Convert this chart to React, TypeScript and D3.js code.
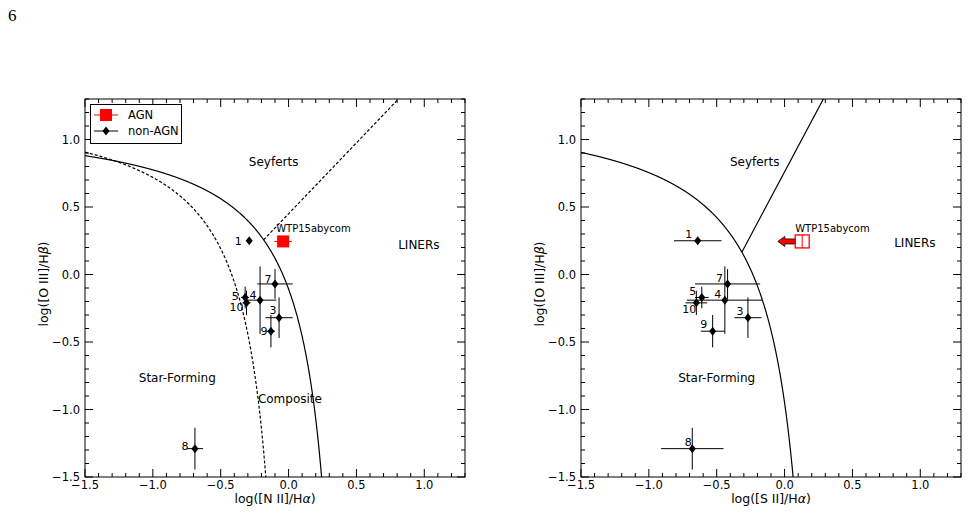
import * as d3 from "d3";

// galaxy ids and line ratios
const ids = ["1", "3", "4", "5", "7", "8", "9", "10"];
const niiX = [-0.29, -0.07, -0.21, -0.32, -0.1, -0.69, -0.13, -0.31];
const niiErr = [0.0, 0.1, 0.12, 0.03, 0.13, 0.06, 0.03, 0.03];
const siiX = [-0.64, -0.27, -0.44, -0.61, -0.42, -0.68, -0.53, -0.65];
const siiErr = [0.175, 0.1, 0.28, 0.05, 0.24, 0.23, 0.087, 0.08];
const oiiiY = [0.25, -0.32, -0.19, -0.17, -0.07, -1.29, -0.42, -0.21];
const oiiiErr = [0.0, 0.15, 0.25, 0.08, 0.11, 0.155, 0.12, 0.09];

// the AGN candidate
const agnName = "WTP15abycom";
const agnNii = { x: -0.04, xerr: 0.065, y: 0.245 };
const agnSii = { x: 0.13, limit: 0.18, y: 0.245 };

const xTicks = [-1.5, -1.0, -0.5, 0.0, 0.5, 1.0];
const yTicks = [-1.5, -1.0, -0.5, 0.0, 0.5, 1.0];

// label offsets (px) around each point
const niiLabelOff: [number, number][] = [[-11, 0], [-6, -8], [-7, -5], [-10, -1], [-7, -5], [-10, -3], [-7, 0], [-10, 4]];
const siiLabelOff: [number, number][] = [[-9, -7], [-8, -7], [-7, -6], [-9, -6], [-8, -6], [-4, -7], [-9, -7], [-7, 6]];

const FONT = "DejaVu Sans, sans-serif";
const minus = (v: number) => (v < 0 ? "\u2212" : "") + Math.abs(v).toFixed(1);

type PanelProps = {
  id: string;
  left: number;
  xs: number[];
  xerr: number[];
  offs: [number, number][];
  kind: "nii" | "sii";
  xLabel: string;
  regions: { t: string; x: number; y: number }[];
};

function Diamond({ cx, cy }: { cx: number; cy: number }) {
  return <path d={`M${cx},${cy - 4.5} L${cx + 3.5},${cy} L${cx},${cy + 4.5} L${cx - 3.5},${cy} Z`} fill="#000" />;
}

function Panel({ id, left, xs, xerr, offs, kind, xLabel, regions }: PanelProps) {
  const x = d3.scaleLinear().domain([-1.5, 1.3]).range([left, left + 380]);
  const y = d3.scaleLinear().domain([-1.5, 1.3]).range([477, 99]);
  const [x0, x1] = x.range();
  const [y1, y0] = y.range();

  const minor = d3.range(-15, 14).map((i) => i / 10);
  const line = d3
    .line<[number, number]>()
    .x((d) => x(d[0]))
    .y((d) => y(d[1]));

  const curve = (a: number, b: number, c: number) =>
    d3
      .range(-1.5, b - 0.001, 0.002)
      .map((v) => [v, a / (v - b) + c] as [number, number])
      .filter((p) => p[1] >= -1.6);

  const maxLine = kind === "nii" ? curve(0.61, 0.47, 1.19) : curve(0.72, 0.32, 1.3);
  const kauff = kind === "nii" ? curve(0.61, 0.05, 1.3) : null;
  const sey =
    kind === "nii"
      ? ([[-0.184, 1.05 * -0.184 + 0.45], [0.81, 1.05 * 0.81 + 0.45]] as [number, number][])
      : ([[-0.315, 1.89 * -0.315 + 0.76], [0.29, 1.89 * 0.29 + 0.76]] as [number, number][]);

  return (
    <g>
      <defs>
        <clipPath id={id}>
          <rect x={x0} y={y0} width={x1 - x0} height={y1 - y0} />
        </clipPath>
      </defs>
      <g clipPath={`url(#${id})`} fill="none" stroke="#000" strokeWidth={1.2}>
        <path d={line(maxLine) ?? ""} />
        {kauff && <path d={line(kauff) ?? ""} strokeDasharray="3,2" />}
        <path d={line(sey) ?? ""} strokeDasharray={kind === "nii" ? "3,2" : undefined} />
      </g>

      {/* minor & major ticks, pointing in */}
      <g stroke="#000" strokeWidth={1}>
        {minor.map((v) => {
          const major = Math.abs(v * 2 - Math.round(v * 2)) < 1e-6;
          const L = major ? 8 : 4;
          return (
            <g key={v}>
              <line x1={x(v)} x2={x(v)} y1={y1} y2={y1 - L} />
              <line x1={x(v)} x2={x(v)} y1={y0} y2={y0 + L} />
              <line y1={y(v)} y2={y(v)} x1={x0} x2={x0 + L} />
              <line y1={y(v)} y2={y(v)} x1={x1} x2={x1 - L} />
            </g>
          );
        })}
      </g>
      <rect x={x0} y={y0} width={x1 - x0} height={y1 - y0} fill="none" stroke="#000" strokeWidth={1} />

      <g fontFamily={FONT} fontSize={11.5} fill="#000">
        {xTicks.map((v) => (
          <text key={v} x={x(v)} y={489} textAnchor="middle">
            {minus(v)}
          </text>
        ))}
        {yTicks.map((v) => (
          <text key={v} x={x0 - 5} y={y(v) + 4} textAnchor="end">
            {minus(v)}
          </text>
        ))}
      </g>

      <text x={(x0 + x1) / 2} y={503} textAnchor="middle" fontFamily={FONT} fontSize={12.5}>
        {xLabel}
        <tspan fontStyle="italic">α</tspan>)
      </text>
      <text
        transform={`translate(${x0 - 37},${(y0 + y1) / 2 - 4}) rotate(-90)`}
        textAnchor="middle"
        fontFamily={FONT}
        fontSize={12.5}
      >
        log([O III]/H<tspan fontStyle="italic">β</tspan>)
      </text>

      <g fontFamily={FONT} fontSize={12} textAnchor="middle">
        {regions.map((r) => (
          <text key={r.t} x={x(r.x)} y={y(r.y) + 4}>
            {r.t}
          </text>
        ))}
      </g>

      {/* non-AGN points */}
      <g stroke="#000" strokeWidth={1}>
        {ids.map((_, i) => (
          <g key={i}>
            <line x1={x(xs[i] - xerr[i])} x2={x(xs[i] + xerr[i])} y1={y(oiiiY[i])} y2={y(oiiiY[i])} />
            <line x1={x(xs[i])} x2={x(xs[i])} y1={y(oiiiY[i] - oiiiErr[i])} y2={y(oiiiY[i] + oiiiErr[i])} />
          </g>
        ))}
      </g>
      {ids.map((n, i) => (
        <g key={n}>
          <Diamond cx={x(xs[i])} cy={y(oiiiY[i])} />
          <text
            x={x(xs[i]) + offs[i][0]}
            y={y(oiiiY[i]) + offs[i][1] + 4}
            textAnchor="middle"
            fontFamily={FONT}
            fontSize={11}
          >
            {n}
          </text>
        </g>
      ))}

      {/* AGN */}
      {kind === "nii" ? (
        <g>
          <line
            x1={x(agnNii.x - agnNii.xerr)}
            x2={x(agnNii.x + agnNii.xerr)}
            y1={y(agnNii.y)}
            y2={y(agnNii.y)}
            stroke="red"
            strokeWidth={1}
          />
          <rect x={x(agnNii.x) - 6} y={y(agnNii.y) - 6} width={12} height={12} fill="red" />
          <text x={x(agnNii.x) - 7} y={y(agnNii.y) - 9} fontFamily={FONT} fontSize={10}>
            {agnName}
          </text>
        </g>
      ) : (
        (() => {
          const cx = x(agnSii.x);
          const cy = y(agnSii.y);
          const tip = x(agnSii.x - agnSii.limit);
          const hb = tip + 7;
          return (
            <g>
              <path
                d={`M${tip},${cy} L${hb},${cy - 5} L${hb},${cy - 2.5} L${cx - 7},${cy - 2.5} L${cx - 7},${cy + 2.5} L${hb},${cy + 2.5} L${hb},${cy + 5} Z`}
                fill="red"
                stroke="#000"
                strokeWidth={0.8}
              />
              <rect x={cx - 7} y={cy - 6.5} width={14} height={13} fill="none" stroke="red" strokeWidth={1.3} />
              <line x1={cx} x2={cx} y1={cy - 6.5} y2={cy + 6.5} stroke="red" strokeWidth={1} />
              <text x={cx - 7} y={cy - 9} fontFamily={FONT} fontSize={10}>
                {agnName}
              </text>
            </g>
          );
        })()
      )}
    </g>
  );
}

export default function App() {
  return (
    <svg
      width={969}
      height={513}
      style={{ position: "absolute", left: 0, top: 0, background: "#fff" }}
    >
      <text x={8} y={21} fontFamily="Liberation Serif, serif" fontSize={17}>
        6
      </text>
      <Panel
        id="clipL"
        left={85}
        xs={niiX}
        xerr={niiErr}
        offs={niiLabelOff}
        kind="nii"
        xLabel="log([N II]/H"
        regions={[
          { t: "Seyferts", x: -0.11, y: 0.83 },
          { t: "LINERs", x: 0.96, y: 0.22 },
          { t: "Star-Forming", x: -0.82, y: -0.77 },
          { t: "Composite", x: 0.01, y: -0.92 },
        ]}
      />
      <Panel
        id="clipR"
        left={581}
        xs={siiX}
        xerr={siiErr}
        offs={siiLabelOff}
        kind="sii"
        xLabel="log([S II]/H"
        regions={[
          { t: "Seyferts", x: -0.22, y: 0.83 },
          { t: "LINERs", x: 0.96, y: 0.23 },
          { t: "Star-Forming", x: -0.5, y: -0.77 },
        ]}
      />
      {/* legend */}
      <g fontFamily={FONT} fontSize={11.5}>
        <rect x={90.5} y={104.5} width={91} height={39} fill="#fff" stroke="#000" strokeWidth={1} />
        <line x1={94} x2={118} y1={115} y2={115} stroke="red" />
        <rect x={100} y={109} width={12} height={12} fill="red" />
        <text x={128} y={119}>AGN</text>
        <line x1={94} x2={118} y1={131} y2={131} stroke="#000" />
        <Diamond cx={106} cy={131} />
        <text x={128} y={135}>non-AGN</text>
      </g>
    </svg>
  );
}
